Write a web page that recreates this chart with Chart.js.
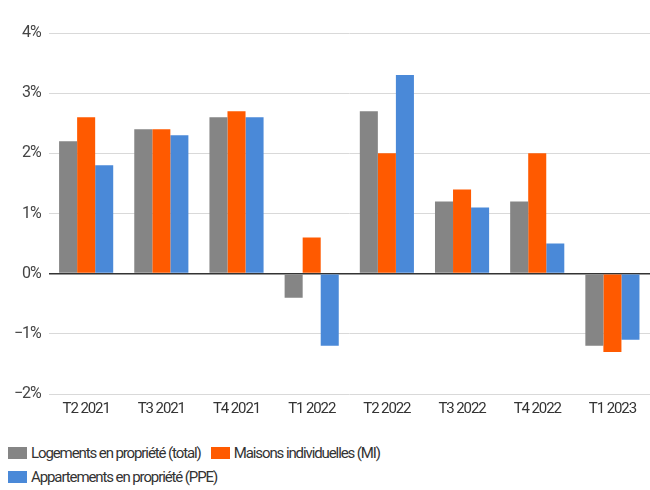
<!DOCTYPE html>
<html>
<head>
<meta charset="utf-8">
<script src="https://cdn.jsdelivr.net/npm/chart.js@4/dist/chart.umd.min.js"></script>
<style>
  html, body { margin: 0; padding: 0; background: #fff; }
  #page { position: relative; width: 650px; height: 490px; font-family: Roboto, sans-serif; }
  #wrap { position: absolute; left: 0; top: 0; width: 650px; height: 430px; }
  #legend { position: absolute; left: 8px; top: 441px; width: 420px; display: flex; flex-wrap: wrap; }
  .item { display: flex; align-items: center; height: 24px; margin-right: 10px; font-size: 15px; letter-spacing: -1.1px; color: #333; white-space: nowrap; }
  .swatch { width: 19px; height: 12px; margin-right: 4px; }
</style>
</head>
<body>
<div id="page">
  <div id="wrap"><canvas id="chart"></canvas></div>
  <div id="legend"></div>
</div>
<script>
const quarters = ['T2 2021', 'T3 2021', 'T4 2021', 'T1 2022', 'T2 2022', 'T3 2022', 'T4 2022', 'T1 2023'];
const totalOwned = [2.2, 2.4, 2.6, -0.4, 2.7, 1.2, 1.2, -1.2];
const houses = [2.6, 2.4, 2.7, 0.6, 2.0, 1.4, 2.0, -1.3];
const flats = [1.8, 2.3, 2.6, -1.2, 3.3, 1.1, 0.5, -1.1];
const seriesNames = ['Logements en propriété (total)', 'Maisons individuelles (MI)', 'Appartements en propriété (PPE)'];
const seriesColors = ['#858585', '#ff5a00', '#4a89d8'];

const fmtPct = (v) => (v < 0 ? '\u2212' + Math.abs(v) : String(v)) + '%';

// narrower glyph spacing for all canvas text
const tightText = {
  id: 'tightText',
  beforeUpdate(chart) { chart.ctx.letterSpacing = '-1.1px'; },
  beforeDraw(chart) { chart.ctx.letterSpacing = '-1.1px'; }
};

// legend rendered as html so it can wrap onto two rows
const htmlLegend = {
  id: 'htmlLegend',
  afterUpdate(chart) {
    const box = document.getElementById('legend');
    box.innerHTML = '';
    chart.options.plugins.legend.labels.generateLabels(chart).forEach((item) => {
      const el = document.createElement('div');
      el.className = 'item';
      const sw = document.createElement('span');
      sw.className = 'swatch';
      sw.style.background = item.fillStyle;
      el.appendChild(sw);
      el.appendChild(document.createTextNode(item.text));
      box.appendChild(el);
    });
  }
};

new Chart(document.getElementById('chart'), {
  type: 'bar',
  data: {
    labels: quarters,
    datasets: [totalOwned, houses, flats].map((data, i) => ({
      label: seriesNames[i],
      data,
      backgroundColor: seriesColors[i]
    }))
  },
  plugins: [tightText, htmlLegend],
  options: {
    responsive: true,
    maintainAspectRatio: false,
    animation: false,
    layout: { padding: { top: 33, right: 0, left: 6, bottom: 6 } },
    datasets: { bar: { categoryPercentage: 0.72, barPercentage: 1.0 } },
    plugins: {
      tooltip: { enabled: false },
      legend: { display: false }
    },
    scales: {
      y: {
        min: -2,
        max: 4,
        ticks: {
          stepSize: 1,
          callback: fmtPct,
          font: { family: 'Roboto', size: 16 },
          color: '#444',
          padding: 8
        },
        grid: {
          color: (ctx) => ctx.tick.value === 0 ? '#333' : '#d9d9d9',
          lineWidth: (ctx) => ctx.tick.value === 0 ? 1.6 : 1,
          drawTicks: false
        },
        border: { display: false }
      },
      x: {
        ticks: { font: { family: 'Roboto', size: 15 }, color: '#333', padding: 6 },
        grid: { display: false, drawTicks: false },
        border: { display: false }
      }
    }
  }
});
</script>
</body>
</html>
